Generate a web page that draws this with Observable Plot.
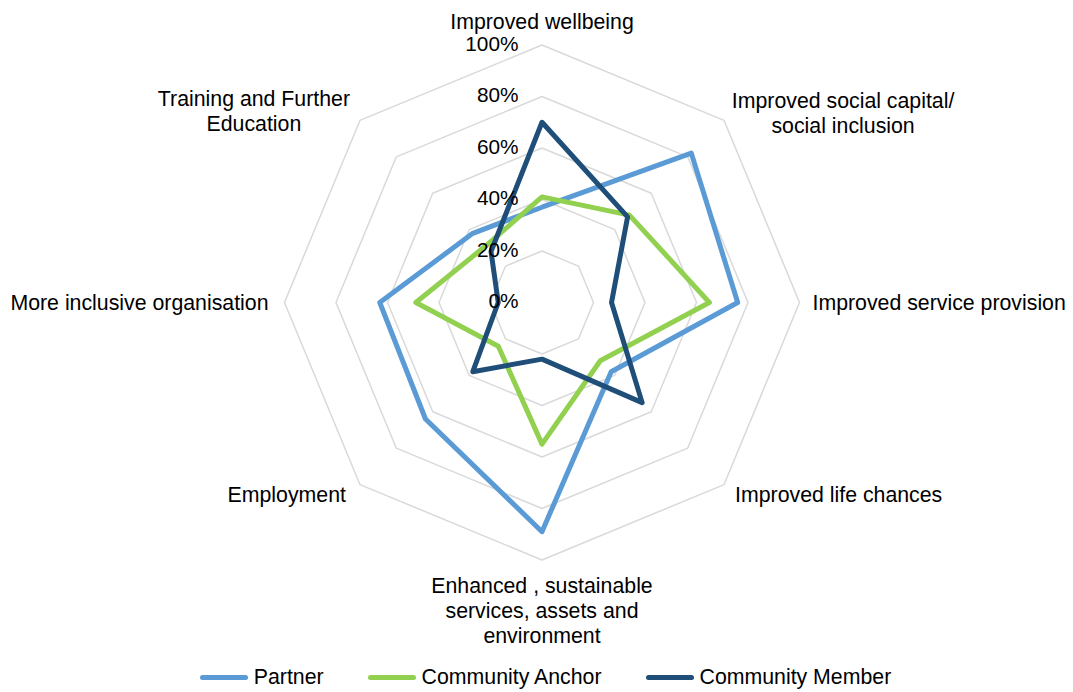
<!DOCTYPE html>
<html>
<head>
<meta charset="utf-8">
<script src="https://cdn.jsdelivr.net/npm/d3@7"></script>
<script src="https://cdn.jsdelivr.net/npm/@observablehq/plot@0.6"></script>
<style>
  html, body { margin: 0; padding: 0; background: #fff; }
  body { position: relative; width: 1073px; height: 692px; overflow: hidden; font-family: "Liberation Sans", Arial, sans-serif; }
  #chart { position: absolute; left: 0; top: 0; }
  #legend { position: absolute; left: 0; top: 664px; width: 1073px; height: 26px; display: flex; justify-content: center; align-items: center; gap: 44px; font-size: 21.3px; color: #000; padding-left: 18px; box-sizing: border-box; }
  .item { display: flex; align-items: center; }
  .swatch { display: inline-block; width: 48px; height: 5px; border-radius: 2.5px; margin-right: 6px; }
</style>
</head>
<body>
<div id="chart"></div>
<div id="legend"></div>
<script>
// ---- data ----
const categories = [
  "Improved wellbeing",
  "Improved social capital/\nsocial inclusion",
  "Improved service provision",
  "Improved life chances",
  "Enhanced , sustainable\nservices, assets and\nenvironment",
  "Employment",
  "More inclusive organisation",
  "Training and Further\nEducation"
];
const seriesNames = ["Partner", "Community Anchor", "Community Member"];
const partner = [0.37, 0.82, 0.76, 0.38, 0.89, 0.64, 0.63, 0.38];
const anchor  = [0.41, 0.48, 0.65, 0.32, 0.55, 0.24, 0.49, 0.31];
const member  = [0.70, 0.47, 0.27, 0.55, 0.22, 0.38, 0.17, 0.28];
const tickValues = [0, 0.2, 0.4, 0.6, 0.8, 1.0];
const tickLabels = ["0%", "20%", "40%", "60%", "80%", "100%"];
const colors = ["#5B9BD5", "#92D050", "#1F4E79"];

// ---- layout ----
const W = 1073, H = 660;
const cx = 541.5, cy = 302, R = 257.5;
const xDomain = [-cx / R, (W - cx) / R];
const yDomain = [-(H - cy) / R, cy / R];
const n = categories.length;
const ang = i => (i * 2 * Math.PI) / n;
const px = (r, i) => r * Math.sin(ang(i));
const py = (r, i) => r * Math.cos(ang(i));

const values = [partner, anchor, member];
const rows = [];
values.forEach((arr, s) => arr.forEach((v, i) => rows.push({series: seriesNames[s], i, x: px(v, i), y: py(v, i)})));

const rings = [];
tickValues.filter(t => t > 0).forEach(t => {
  for (let i = 0; i < n; i++) rings.push({ring: t, x: px(t, i), y: py(t, i)});
});

const ticks = tickValues.map((t, k) => ({t, label: tickLabels[k]}));

// label placement offsets (pixels) relative to the 100% vertex
const labelStyle = [
  {anchor: "middle", dx: 0, dy: -24},
  {anchor: "middle", dx: 119, dy: -8},
  {anchor: "start", dx: 13, dy: 0},
  {anchor: "start", dx: 11, dy: 9},
  {anchor: "middle", dx: 0, dy: 50},
  {anchor: "end", dx: -14, dy: 9},
  {anchor: "end", dx: -16, dy: 0},
  {anchor: "middle", dx: -106, dy: -10}
];

const labelMarks = categories.map((c, i) => Plot.text([c], {
  x: () => px(1, i),
  y: () => py(1, i),
  text: d => d,
  textAnchor: labelStyle[i].anchor,
  lineAnchor: "middle",
  dx: labelStyle[i].dx,
  dy: labelStyle[i].dy,
  fontSize: 21.3,
  lineHeight: 1.16,
  fill: "#000"
}));

const chart = Plot.plot({
  width: W,
  height: H,
  margin: 0,
  x: {domain: xDomain, axis: null},
  y: {domain: yDomain, axis: null},
  color: {domain: seriesNames, range: colors},
  style: {fontFamily: '"Liberation Sans", Arial, sans-serif', background: "#fff"},
  marks: [
    Plot.line(rings, {x: "x", y: "y", z: "ring", curve: "linear-closed", stroke: "#D9D9D9", strokeWidth: 1.5}),
    Plot.line(rows, {x: "x", y: "y", z: "series", stroke: "series", curve: "linear-closed", strokeWidth: 5, strokeLinejoin: "round"}),
    Plot.text(ticks, {x: () => 0, y: "t", text: "label", textAnchor: "end", lineAnchor: "middle", dx: -23.5, dy: -1, fontSize: 20.8, fill: "#000"}),
    ...labelMarks
  ]
});
document.getElementById("chart").appendChild(chart);

const legend = document.getElementById("legend");
seriesNames.forEach((s, k) => {
  const item = document.createElement("div");
  item.className = "item";
  const sw = document.createElement("span");
  sw.className = "swatch";
  sw.style.background = colors[k];
  const tx = document.createElement("span");
  tx.textContent = s;
  item.appendChild(sw);
  item.appendChild(tx);
  legend.appendChild(item);
});
</script>
</body>
</html>
